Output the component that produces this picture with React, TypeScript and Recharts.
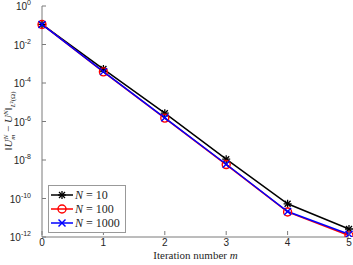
import React from 'react'
import { LineChart, Line, XAxis, YAxis, Legend } from 'recharts'

const iterations = [0, 1, 2, 3, 4, 5]
const errN10 = [0.11, 5.3e-4, 2.7e-6, 1.1e-8, 5.3e-11, 2.6e-12]
const errN100 = [0.11, 3.8e-4, 1.5e-6, 5.8e-9, 2.0e-11, 1.2e-12]
const errN1000 = [0.11, 3.9e-4, 1.55e-6, 6.0e-9, 2.1e-11, 1.4e-12]
const yTicks = [1, 1e-2, 1e-4, 1e-6, 1e-8, 1e-10, 1e-12]
const seriesNames = ['N = 10', 'N = 100', 'N = 1000']

const data = iterations.map((m, i) => ({ m, n10: errN10[i], n100: errN100[i], n1000: errN1000[i] }))

const AXIS = '#7a7a7a'
const TXT = '#262626'
const SANS = '"Liberation Sans", Arial, sans-serif'
const SERIF = '"Liberation Serif", "Times New Roman", serif'

const Star = ({ cx, cy, c }: any) => (
  <g stroke={c} strokeWidth={1.3}>
    <line x1={cx - 4} y1={cy} x2={cx + 4} y2={cy} />
    <line x1={cx} y1={cy - 4} x2={cx} y2={cy + 4} />
    <line x1={cx - 3} y1={cy - 3} x2={cx + 3} y2={cy + 3} />
    <line x1={cx - 3} y1={cy + 3} x2={cx + 3} y2={cy - 3} />
  </g>
)
const Circle = ({ cx, cy, c }: any) => <circle cx={cx} cy={cy} r={4} fill="none" stroke={c} strokeWidth={1.4} />
const Cross = ({ cx, cy, c }: any) => (
  <g stroke={c} strokeWidth={1.4}>
    <line x1={cx - 3.5} y1={cy - 3.5} x2={cx + 3.5} y2={cy + 3.5} />
    <line x1={cx - 3.5} y1={cy + 3.5} x2={cx + 3.5} y2={cy - 3.5} />
  </g>
)

const YTick = ({ x, y, payload }: any) => (
  <g>
    <line x1={x + 2} y1={y} x2={x + 6} y2={y} stroke={AXIS} />
    <text x={x - 9} y={y + 4} textAnchor="end" fontFamily={SANS} fontSize={10} fill={TXT}>
      10
      <tspan dy={-5} fontSize={7}>{Math.round(Math.log10(payload.value))}</tspan>
    </text>
  </g>
)
const YTickRight = ({ x, y }: any) => <line x1={x - 4} y1={y} x2={x} y2={y} stroke={AXIS} />
const XTick = ({ x, y, payload }: any) => (
  <g>
    <line x1={x} y1={y - 2} x2={x} y2={y - 6} stroke={AXIS} />
    <text x={x} y={y + 9} textAnchor="middle" fontFamily={SANS} fontSize={10} fill={TXT}>{payload.value}</text>
  </g>
)
const XTickTop = ({ x, y }: any) => <line x1={x} y1={y} x2={x} y2={y + 4} stroke={AXIS} />

const LegendBox = () => {
  const marks = [Star, Circle, Cross]
  const cols = ['#000000', '#ff0000', '#0000ff']
  return (
    <div style={{ border: '1px solid #999', background: '#fff', width: 76, padding: '2px 0', fontFamily: SERIF, fontSize: 12, color: TXT }}>
      {seriesNames.map((name, i) => {
        const M = marks[i]
        const [n, rest] = name.split(' = ')
        return (
          <div key={name} style={{ display: 'flex', alignItems: 'center', height: 14 }}>
            <svg width={25} height={12} style={{ marginLeft: 1 }}>
              <line x1={1} y1={6} x2={23} y2={6} stroke={cols[i]} strokeWidth={1.5} />
              <M cx={12} cy={6} c={cols[i]} />
            </svg>
            <span><i>{n}</i> = {rest}</span>
          </div>
        )
      })}
    </div>
  )
}

export default function App() {
  return (
    <div style={{ position: 'absolute', left: 0, top: 0, background: '#fff' }}>
      <LineChart width={353} height={265} data={data} margin={{ top: 6, right: 4, left: 0, bottom: 0 }}>
        <XAxis dataKey="m" type="number" domain={[0, 5]} ticks={iterations} height={28} interval={0}
          stroke={AXIS} tickSize={0} tickMargin={0} tickLine={false} tick={<XTick />}
          label={({ viewBox }: any) => (
            <text x={viewBox.x + viewBox.width / 2} y={259} textAnchor="middle" fontFamily={SERIF} fontSize={11} fill={TXT}>
              Iteration number <tspan fontStyle="italic">m</tspan>
            </text>
          )} />
        <XAxis xAxisId="t" orientation="top" dataKey="m" type="number" domain={[0, 5]} ticks={iterations} height={0} interval={0}
          stroke={AXIS} tickSize={0} tickLine={false} tick={<XTickTop />} />
        <YAxis scale="log" domain={[1e-12, 1]} ticks={yTicks} allowDataOverflow width={42} interval={0}
          stroke={AXIS} tickSize={0} tickMargin={2} tickLine={false} tick={<YTick />}
          label={() => (
            <text transform="translate(12,121) rotate(-90)" textAnchor="middle" fontFamily={SERIF} fontSize={11} fill={TXT}>
              <tspan>‖</tspan>
              <tspan fontStyle="italic">U</tspan>
              <tspan dy={-4} fontSize={7} fontStyle="italic">N</tspan>
              <tspan dx={-5} dy={7} fontSize={7} fontStyle="italic">m</tspan>
              <tspan dy={-3}> − </tspan>
              <tspan fontStyle="italic">U</tspan>
              <tspan dy={-4} fontSize={7} fontStyle="italic">N</tspan>
              <tspan dy={4}>‖</tspan>
              <tspan dy={3} fontSize={7} fontStyle="italic">L</tspan>
              <tspan fontSize={7}>²(Ω)</tspan>
            </text>
          )} />
        <YAxis yAxisId="r" orientation="right" scale="log" domain={[1e-12, 1]} ticks={yTicks} allowDataOverflow width={0} interval={0}
          stroke={AXIS} tickSize={0} tickLine={false} tick={<YTickRight />} />
        <Legend layout="vertical" align="center" verticalAlign="middle" content={<LegendBox />}
          wrapperStyle={{ left: 48, top: 185, width: 78 }} />
        <Line dataKey="n10" stroke="#000000" strokeWidth={1.5} isAnimationActive={false}
          dot={(p: any) => <Star key={p.index} cx={p.cx} cy={p.cy} c="#000000" />} />
        <Line dataKey="n100" stroke="#ff0000" strokeWidth={1.5} isAnimationActive={false}
          dot={(p: any) => <Circle key={p.index} cx={p.cx} cy={p.cy} c="#ff0000" />} />
        <Line dataKey="n1000" stroke="#0000ff" strokeWidth={1.5} isAnimationActive={false}
          dot={(p: any) => <Cross key={p.index} cx={p.cx} cy={p.cy} c="#0000ff" />} />
      </LineChart>
    </div>
  )
}
